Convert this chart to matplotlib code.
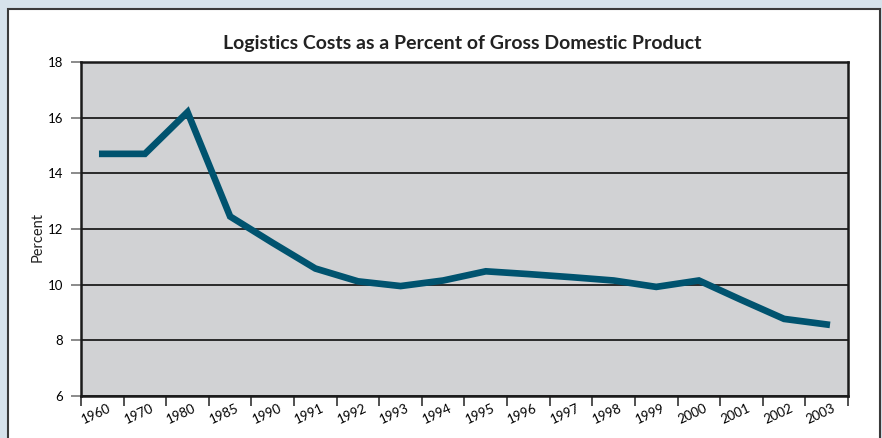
import matplotlib
matplotlib.use("Agg")
import matplotlib.pyplot as plt
from matplotlib.patches import Rectangle
import matplotlib.transforms as mtransforms
import numpy as np

years = ["1960", "1970", "1980", "1985", "1990", "1991", "1992", "1993", "1994",
         "1995", "1996", "1997", "1998", "1999", "2000", "2001", "2002", "2003"]
percent = [14.7, 14.7, 16.2, 12.45, 11.5, 10.58, 10.12, 9.95, 10.15,
           10.48, 10.38, 10.27, 10.15, 9.92, 10.15, 9.45, 8.77, 8.57]
yticks = [6, 8, 10, 12, 14, 16, 18]
title = "Logistics Costs as a Percent of Gross Domestic Product"
ylabel = "Percent"

plt.rcParams['font.family'] = ['Lato', 'DejaVu Sans']

fig = plt.figure(figsize=(8.82, 4.38), dpi=100)
fig.patch.set_facecolor("#d6e2eb")
W, H = 882, 438
fig.patches.append(Rectangle((8 / W, -0.01), (880 - 8) / W, (438 - 9) / H + 0.01,
                             transform=fig.transFigure, facecolor="white",
                             edgecolor="#3a3a3a", linewidth=1.5, zorder=-5))

ax = fig.add_axes([81 / W, 1 - 396 / H, (848 - 81) / W, (396 - 62) / H])
ax.set_zorder(2)
ax.set_facecolor("#d1d2d4")
n = len(years)
x = np.arange(n) + 0.5
ax.plot(x, percent, color="#00536f", linewidth=4.8, solid_joinstyle="miter", zorder=3)

ax.set_xlim(0, n)
ax.set_ylim(6, 18)
ax.set_yticks(yticks)
ax.set_yticklabels([str(v) for v in yticks], fontsize=9.5)
ax.yaxis.grid(True, color="#2a2a2a", linewidth=1.4)
ax.set_axisbelow(True)

ax.set_xticks(np.arange(n + 1))
ax.set_xticklabels([""] * (n + 1))
ax.set_xticks(x, minor=True)
ax.set_xticklabels(years, minor=True, rotation=25, fontsize=9.5, ha="center")
ax.tick_params(axis="x", which="minor", length=0, pad=4)
ax.tick_params(axis="x", which="major", length=7, width=1.2, color="#333333")
ax.tick_params(axis="y", length=7, width=1.2, color="#777777", pad=6)
offset = mtransforms.ScaledTranslation(-6 / 100, 0, fig.dpi_scale_trans)
for lab in ax.get_xticklabels(minor=True):
    lab.set_transform(lab.get_transform() + offset)

for s in ax.spines.values():
    s.set_color("#1a1a1a")
    s.set_linewidth(1.8)

fig.text(38 / W, 1 - 237 / H, ylabel, rotation=90, ha="center", va="center",
         fontsize=10.5, color="#222222")
fig.text((81 + 848) / 2 / W - 0.003, 1 - 43 / H, title, ha="center", va="center",
         fontsize=14, fontweight="bold", color="#222222", zorder=5)

fig.savefig("out.png", dpi=100, facecolor=fig.get_facecolor())
